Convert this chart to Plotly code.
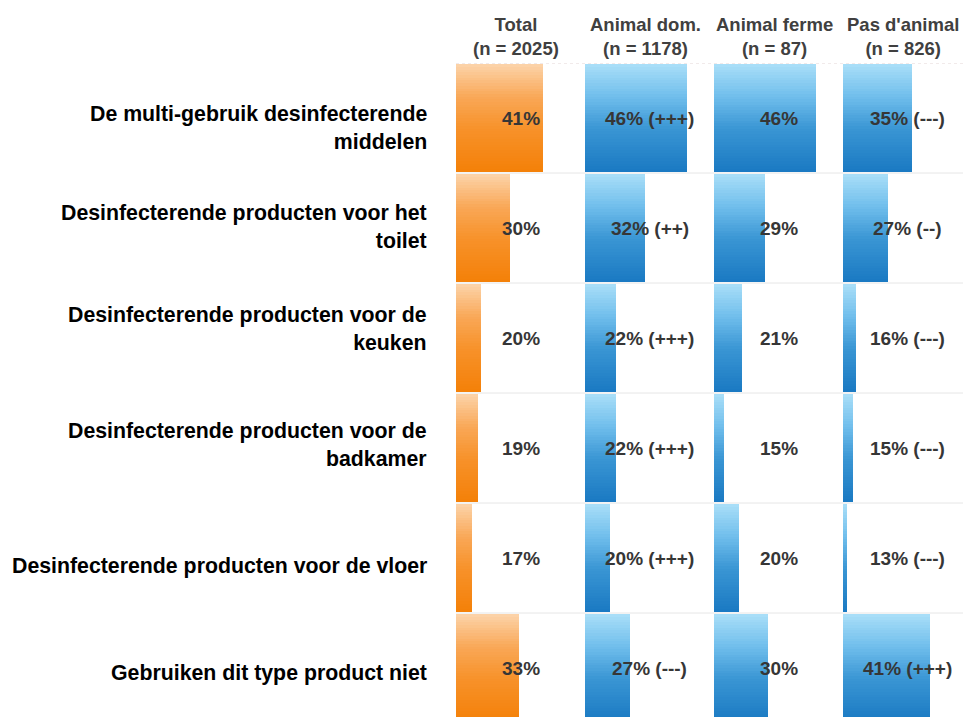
import plotly.graph_objects as go

# ---- data -------------------------------------------------------------
categories = [
    "De multi-gebruik desinfecterende<br>middelen",
    "Desinfecterende producten voor het<br>toilet",
    "Desinfecterende producten voor de<br>keuken",
    "Desinfecterende producten voor de<br>badkamer",
    "Desinfecterende producten voor de vloer",
    "Gebruiken dit type product niet",
]
group_names = ["Total", "Animal dom.", "Animal ferme", "Pas d'animal"]
group_sizes = [2025, 1178, 87, 826]

total = [41, 30, 20, 19, 17, 33]
total_sig = ["", "", "", "", "", ""]
animal_dom = [46, 32, 22, 22, 20, 27]
animal_dom_sig = ["(+++)", "(++)", "(+++)", "(+++)", "(+++)", "(---)"]
animal_ferme = [46, 29, 21, 15, 20, 30]
animal_ferme_sig = ["", "", "", "", "", ""]
pas_animal = [35, 27, 16, 15, 13, 41]
pas_animal_sig = ["(---)", "(--)", "(---)", "(---)", "(---)", "(+++)"]

series = [
    (total, total_sig),
    (animal_dom, animal_dom_sig),
    (animal_ferme, animal_ferme_sig),
    (pas_animal, pas_animal_sig),
]

# ---- layout geometry --------------------------------------------------
FIG_W, FIG_H = 963, 717
TOP = 63
ROW_PX = 110
COL_LEFT0 = 456
COL_PITCH = 129
PX_PER_PCT = 2.97
AXIS_START = 11.7
BAR_T = 0.975
N_SLICES = 40
LABEL_RIGHT = 429
LABEL_NUDGE = [-10, 1, 9, 3, -8, -5]   # vertical pixel nudges of row labels

FONT = "Liberation Sans, Arial, Helvetica, sans-serif"

# vertical gradient stops (top -> bottom)
ORANGE = [(0.0, (252, 212, 170)), (0.3, (249, 168, 88)),
          (0.6, (247, 146, 42)), (1.0, (244, 128, 8))]
BLUE = [(0.0, (170, 223, 248)), (0.3, (112, 190, 236)),
        (0.6, (58, 150, 212)), (1.0, (26, 121, 194))]


def ramp(stops, t):
    for (t0, c0), (t1, c1) in zip(stops[:-1], stops[1:]):
        if t <= t1:
            f = (t - t0) / (t1 - t0) if t1 > t0 else 0
            c = [round(a + (b - a) * f) for a, b in zip(c0, c1)]
            return f"rgb({c[0]},{c[1]},{c[2]})"
    c = stops[-1][1]
    return f"rgb({c[0]},{c[1]},{c[2]})"


fig = go.Figure()
rows = list(range(len(categories)))
label_x = AXIS_START + 64.5 / PX_PER_PCT
header_x = AXIS_START + 60 / PX_PER_PCT

annotations = []
for c, (vals, sigs) in enumerate(series):
    xa = "x" if c == 0 else f"x{c + 1}"
    stops = ORANGE if c == 0 else BLUE
    step = BAR_T / N_SLICES
    for k in range(N_SLICES):
        fig.add_trace(go.Bar(
            x=vals, y=rows, orientation="h",
            width=step * 1.15, offset=-BAR_T / 2 + k * step,
            marker=dict(color=ramp(stops, (k + 0.5) / N_SLICES), line=dict(width=0)),
            xaxis=xa, yaxis="y", showlegend=False, hoverinfo="skip",
        ))
    for r, (v, s) in enumerate(zip(vals, sigs)):
        annotations.append(dict(
            xref=xa, yref="y", x=label_x, y=r,
            text=f"{v}%" + (f" {s}" if s else ""),
            showarrow=False, xanchor="center", yanchor="middle",
            font=dict(family=FONT, size=19, color="#363636", weight="bold"),
        ))
    annotations.append(dict(
        xref=xa, yref="paper", x=header_x, y=1, yanchor="bottom", yshift=2,
        text=f"{group_names[c]}<br>(n = {group_sizes[c]})",
        showarrow=False, xanchor="center",
        font=dict(family=FONT, size=18.5, color="#404040", weight="bold"),
    ))

# row labels
for r, name in enumerate(categories):
    annotations.append(dict(
        xref="paper", yref="y", x=LABEL_RIGHT / FIG_W, y=r,
        xanchor="right", yanchor="middle", align="right", yshift=LABEL_NUDGE[r],
        text=name, showarrow=False,
        font=dict(family=FONT, size=21.3, color="#000000", weight="bold"),
    ))

# x axes, one per column
layout_axes = {}
for c in range(len(series)):
    left = COL_LEFT0 + c * COL_PITCH
    right = min(left + COL_PITCH, FIG_W)
    key = "xaxis" if c == 0 else f"xaxis{c + 1}"
    layout_axes[key] = dict(
        domain=[left / FIG_W, right / FIG_W],
        range=[AXIS_START, AXIS_START + (right - left) / PX_PER_PCT],
        visible=False, fixedrange=True, anchor="y",
    )

plot_h = FIG_H - TOP
y_span = plot_h / ROW_PX

# row separators
shapes = []
sep_x0 = COL_LEFT0 / FIG_W
for k in range(len(categories) - 1):
    shapes.append(dict(type="line", xref="paper", yref="y", x0=sep_x0, x1=1,
                       y0=k + 0.5, y1=k + 0.5, line=dict(color="#e6e6e6", width=1),
                       layer="below"))
shapes.append(dict(type="line", xref="paper", yref="y", x0=sep_x0, x1=1,
                   y0=-0.5, y1=-0.5, line=dict(color="#e3d6d6", width=1, dash="dot"),
                   layer="below"))

fig.update_layout(
    width=FIG_W, height=FIG_H,
    margin=dict(l=0, r=0, t=TOP, b=0, autoexpand=False),
    paper_bgcolor="white", plot_bgcolor="white",
    barmode="overlay", bargap=0,
    showlegend=False,
    annotations=annotations,
    shapes=shapes,
    yaxis=dict(
        range=[-0.5 + y_span, -0.5],
        showgrid=False, zeroline=False, showline=False, ticks="",
        showticklabels=False, automargin=False, fixedrange=True,
        anchor="x",
    ),
    **layout_axes,
)

fig.write_html("out.html", config={"displayModeBar": False})
